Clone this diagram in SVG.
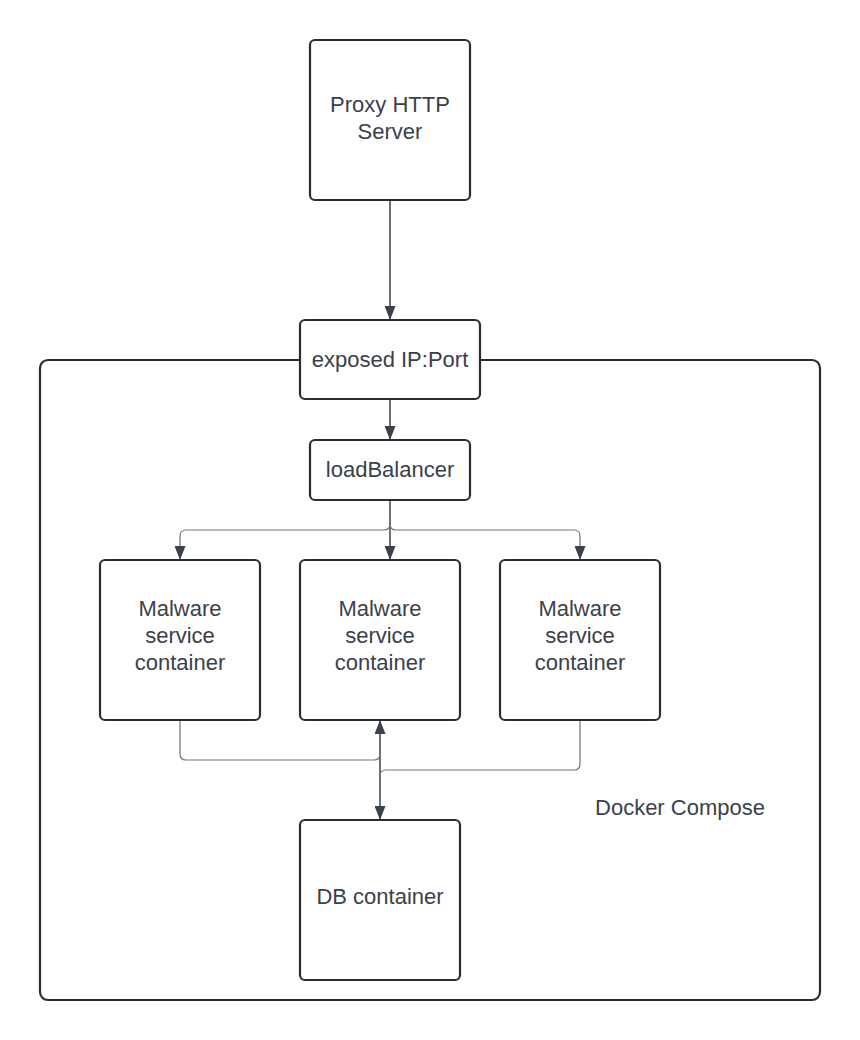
<svg xmlns="http://www.w3.org/2000/svg" width="860" height="1040" viewBox="0 0 860 1040">
<defs>
<style>
.box{fill:#fff;stroke:#282c33;stroke-width:2.2}
.t{font-family:"Liberation Sans",Arial,sans-serif;font-size:22px;fill:#3a414a;text-anchor:middle}
.main{fill:none;stroke:#3a414a;stroke-width:1.5}
.thin{fill:none;stroke:#6f747a;stroke-width:1.2}
</style>
<marker id="ah" viewBox="0 0 14 11" refX="14" refY="5.5" markerWidth="14" markerHeight="11" markerUnits="userSpaceOnUse" orient="auto-start-reverse">
<path d="M0,0 L14,5.5 L0,11 z" fill="#3a414a"/>
</marker>
</defs>
<rect width="860" height="1040" fill="#fff"/>
<g id="docker-compose">
<rect class="box" x="40" y="360" width="780" height="640" rx="8"/>
<text class="t" x="680" y="815">Docker Compose</text>
</g>
<g id="connectors">
<path class="main" d="M390,200 V320" marker-end="url(#ah)"/>
<path class="main" d="M390,400 V440" marker-end="url(#ah)"/>
<path class="main" d="M390,500 V560" marker-end="url(#ah)"/>
<path class="thin" d="M390,500 V524 Q390,530 384,530 H186 Q180,530 180,536 V560" marker-end="url(#ah)"/>
<path class="thin" d="M390,500 V524 Q390,530 396,530 H574 Q580,530 580,536 V560" marker-end="url(#ah)"/>
<path class="main" d="M380,720 V820" marker-start="url(#ah)" marker-end="url(#ah)"/>
<path class="thin" d="M180,720 V754 Q180,760 186,760 H374 Q380,760 380,754"/>
<path class="thin" d="M580,720 V764 Q580,770 574,770 H386 Q380,770 380,776"/>
</g>
<g id="proxy">
<rect class="box" x="310" y="40" width="160" height="160" rx="5"/>
<text class="t" x="390" y="112">Proxy HTTP</text>
<text class="t" x="390" y="139">Server</text>
</g>
<g id="exposed">
<rect class="box" x="300" y="320" width="180" height="79" rx="5"/>
<text class="t" x="390" y="367">exposed IP:Port</text>
</g>
<g id="loadbalancer">
<rect class="box" x="310" y="440" width="160" height="60" rx="5"/>
<text class="t" x="390" y="477">loadBalancer</text>
</g>
<g id="malware1">
<rect class="box" x="100" y="560" width="160" height="160" rx="5"/>
<text class="t" x="180" y="616">Malware</text>
<text class="t" x="180" y="643">service</text>
<text class="t" x="180" y="670">container</text>
</g>
<g id="malware2">
<rect class="box" x="300" y="560" width="160" height="160" rx="5"/>
<text class="t" x="380" y="616">Malware</text>
<text class="t" x="380" y="643">service</text>
<text class="t" x="380" y="670">container</text>
</g>
<g id="malware3">
<rect class="box" x="500" y="560" width="160" height="160" rx="5"/>
<text class="t" x="580" y="616">Malware</text>
<text class="t" x="580" y="643">service</text>
<text class="t" x="580" y="670">container</text>
</g>
<g id="db">
<rect class="box" x="300" y="820" width="160" height="160" rx="5"/>
<text class="t" x="380" y="904">DB container</text>
</g>
</svg>
